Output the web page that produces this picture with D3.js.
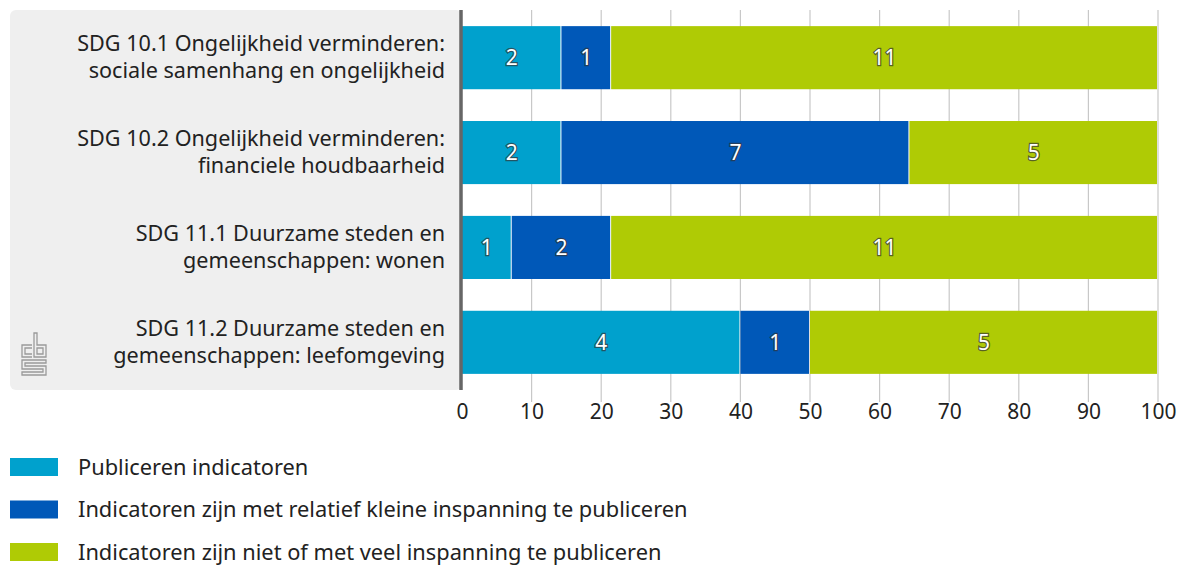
<!DOCTYPE html>
<html lang="en">
<head>
<meta charset="UTF-8">
<script src="https://d3js.org/d3.v7.min.js"></script>
<title>SDG indicatoren</title>
<style>
  body { margin: 0; background: #fff; }
  text { font-family: "Noto Sans", "Open Sans", sans-serif; }
  .lbl { fill: #fff; paint-order: stroke; stroke: #333; stroke-width: 2.5px; stroke-opacity: 0.7; }
</style>
</head>
<body>
<script>
// categories, two text lines each
var categories = [
  ["SDG 10.1 Ongelijkheid verminderen:", "sociale samenhang en ongelijkheid"],
  ["SDG 10.2 Ongelijkheid verminderen:", "financiele houdbaarheid"],
  ["SDG 11.1 Duurzame steden en", "gemeenschappen: wonen"],
  ["SDG 11.2 Duurzame steden en", "gemeenschappen: leefomgeving"]
];
var series = [
  "Publiceren indicatoren",
  "Indicatoren zijn met relatief kleine inspanning te publiceren",
  "Indicatoren zijn niet of met veel inspanning te publiceren"
];
var publiceren = [2, 2, 1, 4];
var kleineInspanning = [1, 7, 2, 1];
var veelInspanning = [11, 5, 11, 5];
var xTicks = [0, 10, 20, 30, 40, 50, 60, 70, 80, 90, 100];
var colors = ["#00a1cd", "#0058b8", "#afcb05"];

var W = 1187, H = 566;
var svg = d3.select("body").append("svg").attr("width", W).attr("height", H);

// table of counts -> percentages
var rows = categories.map(function(c, i) {
  var vals = [publiceren[i], kleineInspanning[i], veelInspanning[i]];
  var tot = d3.sum(vals);
  var r = { idx: i, counts: vals };
  vals.forEach(function(v, k) { r["s" + k] = v / tot * 100; });
  return r;
});
var stacked = d3.stack().keys(["s0", "s1", "s2"])(rows);

var x = d3.scaleLinear().domain([0, 100]).range([462, 1158]);
var y = d3.scaleBand().domain(d3.range(categories.length)).range([10, 390]).paddingInner(0.335).paddingOuter(0.17);

// gray label panel
svg.append("rect").attr("x", 10).attr("y", 10).attr("width", 452).attr("height", 380)
  .attr("rx", 6).attr("fill", "#efefef");

// grid lines
svg.append("g").selectAll("line").data(xTicks.slice(1)).join("line")
  .attr("x1", function(d) { return x(d); }).attr("x2", function(d) { return x(d); })
  .attr("y1", 10).attr("y2", 402)
  .attr("stroke", "#c8c8c8").attr("stroke-width", 1.2);

// bars
var g = svg.append("g").selectAll("g").data(stacked).join("g")
  .attr("fill", function(d, i) { return colors[i]; });
g.selectAll("rect").data(function(d) { return d; }).join("rect")
  .attr("x", function(d) { return x(d[0]); })
  .attr("width", function(d) { return x(d[1]) - x(d[0]) - 1; })
  .attr("y", function(d) { return y(d.data.idx); })
  .attr("height", y.bandwidth());

// value labels
stacked.forEach(function(s, k) {
  svg.append("g").selectAll("text").data(s).join("text")
    .attr("class", "lbl")
    .attr("x", function(d) { return (x(d[0]) + x(d[1])) / 2; })
    .attr("y", function(d) { return y(d.data.idx) + y.bandwidth() / 2; })
    .attr("dy", "0.35em").attr("text-anchor", "middle")
    .attr("font-size", 21)
    .text(function(d) { return d.data.counts[k]; });
});

// axis
var axis = d3.axisBottom(x).tickValues(xTicks).tickSize(0).tickPadding(0);
var ax = svg.append("g").attr("transform", "translate(0,401)").call(axis);
ax.select(".domain").remove();
ax.selectAll("text").attr("font-size", 21).attr("fill", "#222").attr("dy", "0.85em");

// vertical baseline
svg.append("line").attr("x1", 461).attr("x2", 461).attr("y1", 10).attr("y2", 390)
  .attr("stroke", "#666").attr("stroke-width", 3.5);

// category labels
svg.append("g").selectAll("text").data(categories).join("text")
  .attr("text-anchor", "end").attr("font-size", 21.6).attr("fill", "#222")
  .attr("y", function(d, i) { return y(i) + y.bandwidth() / 2; })
  .each(function(d) {
    var t = d3.select(this);
    t.append("tspan").attr("x", 445).attr("dy", "-0.3em").text(d[0]);
    t.append("tspan").attr("x", 445).attr("dy", "1.25em").text(d[1]);
  });

// cbs logo (simplified)
var logo = svg.append("g").attr("transform", "translate(22,333)")
  .attr("fill", "none").attr("stroke", "#9a9a9a").attr("stroke-width", 1.3);
logo.append("path").attr("d", "M10,12 H0 V24 H10 M10,15 H3 V21 H10");
logo.append("path").attr("d", "M12,0 H15 V12 H24 V24 H12 Z M15,15 H21 V21 H15 Z");
logo.append("path").attr("d", "M24,27 H0 V36 H21 V39 H0 V42 H24 V33 H3 V30 H24 Z");

// legend
var leg = svg.append("g").selectAll("g").data(series).join("g")
  .attr("transform", function(d, i) { return "translate(10," + (467 + i * 42.5) + ")"; });
leg.append("rect").attr("x", 0).attr("y", -9).attr("width", 48).attr("height", 18)
  .attr("fill", function(d, i) { return colors[i]; });
leg.append("text").attr("x", 68).attr("dy", "0.35em").attr("font-size", 21.8).attr("fill", "#222")
  .text(function(d) { return d; });
</script>
</body>
</html>
